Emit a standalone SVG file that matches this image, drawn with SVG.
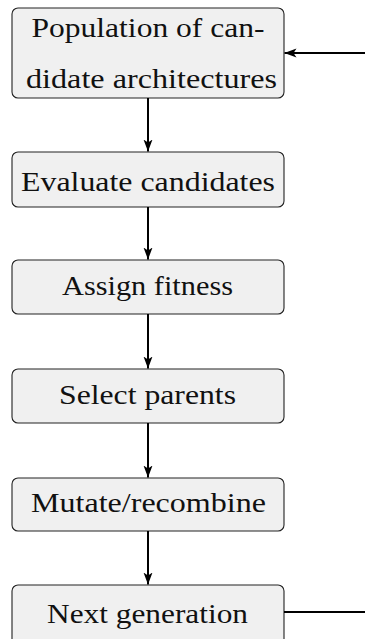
<svg xmlns="http://www.w3.org/2000/svg" width="365" height="639" viewBox="0 0 365 639">
<defs>
<style>
.box{fill:#f0f0f0;stroke:#222;stroke-width:1.1}
.t{font-family:"Liberation Serif","DejaVu Serif",serif;font-size:27px;fill:#111;text-anchor:middle}
.c{stroke:#000;stroke-width:2;fill:none}
</style>
<marker id="ah" markerWidth="12" markerHeight="10" refX="12" refY="5" orient="auto" markerUnits="userSpaceOnUse">
<path d="M0,0.5 L12,5 L0,9.5 L3,5 Z" fill="#000"/>
</marker>
</defs>
<g id="n1">
<rect class="box" x="12" y="8" width="272" height="90" rx="6"/>
<text class="t" x="148" y="37" textLength="233" lengthAdjust="spacingAndGlyphs">Population of can-</text>
<text class="t" x="151.5" y="88" textLength="251" lengthAdjust="spacingAndGlyphs">didate architectures</text>
</g>
<g id="n2">
<rect class="box" x="12" y="152" width="272" height="55" rx="6"/>
<text class="t" x="148" y="190.5" textLength="254" lengthAdjust="spacingAndGlyphs">Evaluate candidates</text>
</g>
<g id="n3">
<rect class="box" x="12" y="260" width="272" height="54" rx="6"/>
<text class="t" x="147.5" y="295" textLength="171" lengthAdjust="spacingAndGlyphs">Assign fitness</text>
</g>
<g id="n4">
<rect class="box" x="12" y="369" width="272" height="54" rx="6"/>
<text class="t" x="147.5" y="404" textLength="177" lengthAdjust="spacingAndGlyphs">Select parents</text>
</g>
<g id="n5">
<rect class="box" x="12" y="478" width="272" height="53" rx="6"/>
<text class="t" x="148.5" y="512" textLength="235" lengthAdjust="spacingAndGlyphs">Mutate/recombine</text>
</g>
<g id="n6">
<rect class="box" x="12" y="585" width="272" height="60" rx="6"/>
<text class="t" x="147.5" y="623" textLength="201" lengthAdjust="spacingAndGlyphs">Next generation</text>
</g>
<g id="connectors">
<line class="c" x1="148" y1="98" x2="148" y2="151.5" marker-end="url(#ah)"/>
<line class="c" x1="148" y1="207" x2="148" y2="259.5" marker-end="url(#ah)"/>
<line class="c" x1="148" y1="314" x2="148" y2="368.5" marker-end="url(#ah)"/>
<line class="c" x1="148" y1="423" x2="148" y2="477.5" marker-end="url(#ah)"/>
<line class="c" x1="148" y1="531" x2="148" y2="584.5" marker-end="url(#ah)"/>
<line class="c" x1="284" y1="612" x2="365" y2="612"/>
<line class="c" x1="365" y1="53" x2="284.5" y2="53" marker-end="url(#ah)"/>
</g>
</svg>
